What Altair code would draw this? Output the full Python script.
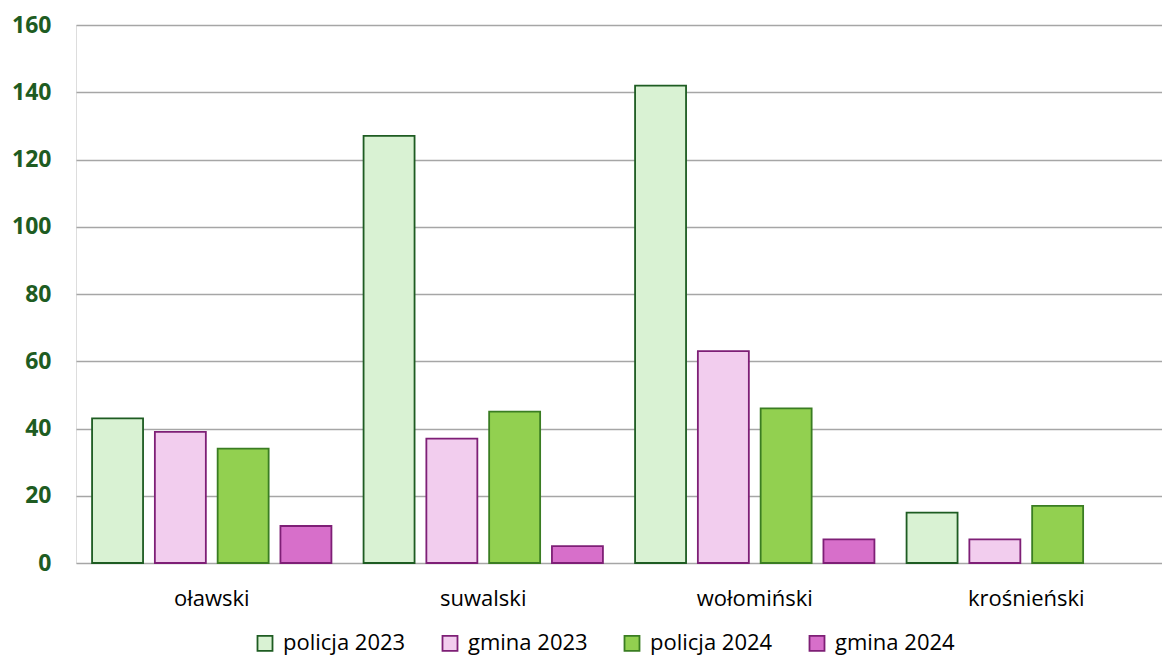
import altair as alt
import pandas as pd

categories = ["oławski", "suwalski", "wołomiński", "krośnieński"]
series = ["policja 2023", "gmina 2023", "policja 2024", "gmina 2024"]
policja_2023 = [43, 127, 142, 15]
gmina_2023 = [39, 37, 63, 7]
policja_2024 = [34, 45, 46, 17]
gmina_2024 = [11, 5, 7, 0]

fills = ["#d9f2d3", "#f2cdee", "#92d050", "#d76fca"]
strokes = ["#1e5c22", "#7e1f76", "#3a7d22", "#7e1f76"]

rows = []
for s, vals in zip(series, [policja_2023, gmina_2023, policja_2024, gmina_2024]):
    for c, v in zip(categories, vals):
        rows.append({"powiat": c, "seria": s, "wartosc": v})
df = pd.DataFrame(rows)

font = "Open Sans"

legend_kw = dict(
    title=None,
    orient="none",
    direction="horizontal",
    legendX=178,
    legendY=607,
    symbolType="square",
    symbolSize=225,
    symbolStrokeWidth=1.8,
    symbolOpacity=1,
    labelFont=font,
    labelFontSize=22,
    labelColor="#000000",
    labelOffset=7,
    columnPadding=32,
    padding=0,
    labelLimit=300,
)

chart = (
    alt.Chart(df)
    .transform_filter("datum.wartosc > 0")
    .mark_bar(strokeWidth=1.8)
    .encode(
        x=alt.X(
            "powiat:N",
            sort=categories,
            scale=alt.Scale(domain=categories, paddingInner=0, paddingOuter=0),
            axis=alt.Axis(
                title=None,
                labelAngle=0,
                ticks=False,
                domain=False,
                labelFont=font,
                labelFontSize=22,
                labelColor="#000000",
                labelPadding=25,
            ),
        ),
        xOffset=alt.XOffset(
            "seria:N",
            sort=series,
            scale=alt.Scale(domain=series, paddingInner=0.188, paddingOuter=0.256),
        ),
        y=alt.Y(
            "wartosc:Q",
            scale=alt.Scale(domain=[0, 160], nice=False),
            axis=alt.Axis(
                title=None,
                values=[0, 20, 40, 60, 80, 100, 120, 140, 160],
                ticks=False,
                domain=False,
                grid=True,
                gridColor="#a6a6a6",
                gridWidth=1.5,
                labelFont=font,
                labelFontSize=23,
                labelFontWeight="bold",
                labelColor="#1e5c22",
                labelPadding=25,
            ),
        ),
        fill=alt.Fill(
            "seria:N",
            sort=series,
            scale=alt.Scale(domain=series, range=fills),
            legend=alt.Legend(**legend_kw),
        ),
        stroke=alt.Stroke(
            "seria:N",
            sort=series,
            scale=alt.Scale(domain=series, range=strokes),
            legend=alt.Legend(**legend_kw),
        ),
    )
    .properties(
        width=1086,
        height=538,
        autosize="none",
        padding={"left": 68, "top": 17, "right": 0, "bottom": 95},
    )
    .configure_view(stroke=None)
    .configure(background="#ffffff")
)

chart.save("out.html", embed_options={"renderer": "svg", "actions": False})
